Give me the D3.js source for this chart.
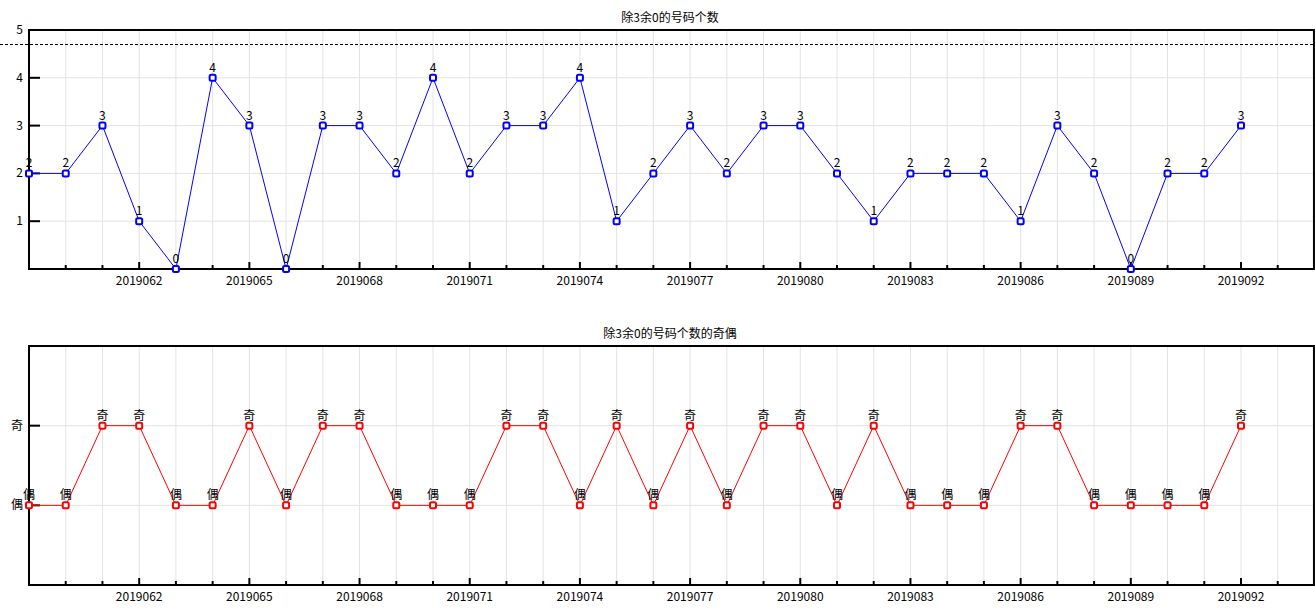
<!DOCTYPE html>
<html><head><meta charset="utf-8">
<script src="https://cdn.jsdelivr.net/npm/d3@7"></script>
<style>
body{margin:0;background:#fff;}
text{font-family:"Noto Sans CJK SC","DejaVu Sans",sans-serif;}
</style></head>
<body><svg id="c" width="1315" height="612"></svg>
<script>
const startIssue = 2019059;
const issues = d3.range(34).map(i => String(startIssue + i));
const counts = [2,2,3,1,0,4,3,0,3,3,2,4,2,3,3,4,1,2,3,2,3,3,2,1,2,2,2,1,3,2,0,2,2,3];
const parity = counts.map(v => v % 2 === 1 ? "奇" : "偶");
const yTicksTop = [1,2,3,4,5];
const parityLabels = ["偶","奇"];
const titles = ["除3余0的号码个数","除3余0的号码个数的奇偶"];
const dashedValue = 4.7;

const svg = d3.select("#c");
const x = d3.scaleLinear().domain([0, 33]).range([29, 1241]);
const L = x(0), R = x(35) - 0.5;

function panel(top, bottom, yDomain, vals, color, labels, yTicks, yTickFmt, title, dashed) {
  const y = d3.scaleLinear().domain(yDomain).range([bottom, top]);
  const g = svg.append("g");
  g.selectAll(".vg").data(d3.range(1, 35)).join("line")
    .attr("x1", d => x(d)).attr("x2", d => x(d)).attr("y1", top).attr("y2", bottom)
    .attr("stroke", "#e3e3e3").attr("stroke-width", 1);
  g.selectAll(".hg").data(yTicks).join("line")
    .attr("x1", L).attr("x2", R).attr("y1", d => y(d)).attr("y2", d => y(d))
    .attr("stroke", "#e3e3e3").attr("stroke-width", 1);
  if (dashed !== null) {
    g.append("line").attr("x1", 0).attr("x2", R).attr("y1", Math.round(y(dashed)) + 0.5).attr("y2", Math.round(y(dashed)) + 0.5)
      .attr("stroke", "#000").attr("stroke-dasharray", "3,2").attr("stroke-width", 1);
  }
  g.append("rect").attr("x", L).attr("y", top).attr("width", R - L).attr("height", bottom - top)
    .attr("fill", "none").attr("stroke", "#000").attr("stroke-width", 2);
  g.selectAll(".yt").data(yTicks.filter(d => y(d) > top + 1)).join("line")
    .attr("x1", L).attr("x2", L + 11).attr("y1", d => y(d)).attr("y2", d => y(d))
    .attr("stroke", "#000").attr("stroke-width", 2);
  g.selectAll(".yl").data(yTicks).join("text")
    .attr("x", L - 6).attr("y", d => y(d) + 4).attr("text-anchor", "end")
    .attr("font-size", 12).text(yTickFmt);
  g.selectAll(".xt").data(d3.range(1, 35)).join("line")
    .attr("x1", d => x(d)).attr("x2", d => x(d))
    .attr("y1", bottom).attr("y2", d => bottom - (d % 3 === 0 ? 7 : 4))
    .attr("stroke", "#000").attr("stroke-width", 2);
  g.selectAll(".xl").data(d3.range(3, 34, 3)).join("text")
    .attr("x", d => x(d)).attr("y", bottom + 16).attr("text-anchor", "middle")
    .attr("font-size", 12).text(d => issues[d]);
  g.append("text").attr("x", 670).attr("y", top - 8).attr("text-anchor", "middle")
    .attr("font-size", 12).text(title);
  const line = d3.line().x((d, i) => x(i)).y(d => y(d));
  g.append("path").datum(vals).attr("d", line).attr("fill", "none")
    .attr("stroke", color).attr("stroke-width", 1);
  g.selectAll(".pt").data(vals).join("rect")
    .attr("x", (d, i) => x(i) - 3).attr("y", d => y(d) - 3)
    .attr("width", 6).attr("height", 6).attr("rx", 1.5)
    .attr("fill", "#fff").attr("stroke", color).attr("stroke-width", 2);
  g.selectAll(".lb").data(vals).join("text")
    .attr("x", (d, i) => x(i)).attr("y", d => y(d) - 6).attr("text-anchor", "middle")
    .attr("font-size", 12).text((d, i) => labels[i]);
}

panel(30, 269, [0, 5], counts, "#0000ff", counts.map(String), yTicksTop, d => d, titles[0], dashedValue);
const pv = parity.map(p => p === "奇" ? 2 : 1);
panel(346, 585, [0, 3], pv, "#ff0000", parity, [1, 2], d => parityLabels[d - 1], titles[1], null);
</script></body></html>
